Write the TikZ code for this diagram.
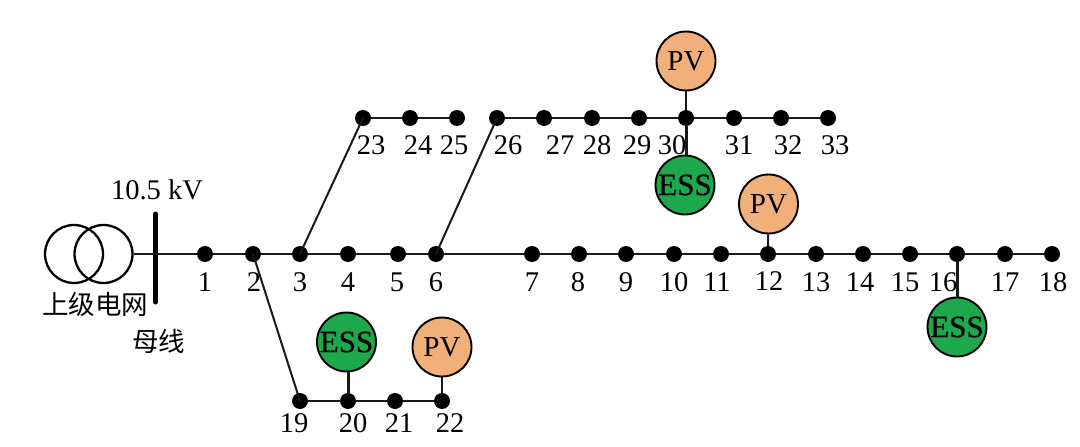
\documentclass[tikz,border=0pt]{standalone}
\usepackage{fontspec}
\setmainfont{Liberation Serif}
\newfontfamily\cjk{Noto Sans CJK SC}
\newfontfamily\essfont[FakeBold=0.6]{Liberation Serif}
\definecolor{pvc}{RGB}{241,176,122}
\definecolor{essc}{RGB}{30,168,78}
\tikzset{
  x=1pt,y=-1pt,
  bus/.style={circle,fill=black,inner sep=0pt,minimum size=16pt},
  lbl/.style={inner sep=0pt,font=\fontsize{28.5}{30}\selectfont},
  cjklbl/.style={inner sep=0pt,font=\cjk\fontsize{26.5}{28}\selectfont},
  source/.style={circle,draw=black,line width=1.9pt,minimum size=59pt,inner sep=0pt,font=\fontsize{29}{30}\selectfont},
  pv/.style={source,fill=pvc},
  ess/.style={source,fill=essc,font=\essfont\fontsize{31}{30}\selectfont},
  wire/.style={line width=2pt,black!90},
  thick wire/.style={line width=3pt,black!90},
  winding/.style={circle,draw=black,line width=2.3pt,minimum size=58pt,inner sep=0pt},
}
\begin{document}
\begin{tikzpicture}
\useasboundingbox (0,0) rectangle (1080,447);
% buses
\foreach \n/\px in {1/205,2/253,3/300,4/348,5/398,6/436,7/532,8/579,9/626,10/674,11/721,12/768,13/816,14/863,15/910,16/957,17/1005,18/1052}
  \node[bus] (b\n) at (\px,254) {};
\foreach \n/\px in {23/363,24/410,25/457,26/497,27/544,28/592,29/639,30/686,31/734,32/781,33/828}
  \node[bus] (b\n) at (\px,118) {};
\foreach \n/\px in {19/300,20/348,21/395,22/442}
  \node[bus] (b\n) at (\px,401) {};
% transformer and busbar
\node[winding] (t1) at (74,254) {};
\node[winding] (t2) at (103.5,254) {};
\coordinate (bartop) at (155.5,214);
\coordinate (barbot) at (155.5,302);
\draw[line width=5pt,line cap=round] (bartop) -- (barbot);
% sources
\node[pv] (pv30) at (686,61) {PV};
\node[ess] (ess30) at (685,185) {ESS};
\node[pv] (pv12) at (768.5,204) {PV};
\node[ess] (ess16) at (957,327) {ESS};
\node[ess] (ess20) at (346.5,342) {ESS};
\node[pv] (pv22) at (442,347) {PV};
% wires
\draw[wire] (t2.east) -- (b1) -- (b2) -- (b3) -- (b4) -- (b5) -- (b6) -- (b7) -- (b8) -- (b9) -- (b10) -- (b11) -- (b12) -- (b13) -- (b14) -- (b15) -- (b16) -- (b17) -- (b18);
\draw[wire] (b23) -- (b24) -- (b25);
\draw[wire] (b26) -- (b27) -- (b28) -- (b29) -- (b30) -- (b31) -- (b32) -- (b33);
\draw[wire] (b19) -- (b20) -- (b21) -- (b22);
\draw[wire] (b2.center) -- (b19.center);
\draw[wire] (b3.center) -- (b23.center);
\draw[wire] (b6.center) -- (b26.center);
\draw[wire] (pv30) -- (b30);
\draw[thick wire] (ess30.north -| b30) -- (b30);
\draw[wire] (pv12) -- (b12);
\draw[thick wire] (ess16) -- (b16);
\draw[thick wire] (ess20.south -| b20) -- (b20);
\draw[wire] (pv22) -- (b22);
% labels
\foreach \n/\px/\py in {1/205/282,2/254/282,3/300/282,4/348/282,5/397/282,6/436/282,7/532/282,8/578/282,9/626/282,10/674/282,11/717/282,12/769/281,13/816/282,14/860/282,15/905/282,16/943/282,17/1005/282,18/1053/282}
  \node[lbl] (l\n) at (\px,\py) {\n};
\foreach \n/\px in {23/371,24/418,25/454,26/508,27/560,28/597,29/637,30/672,31/739,32/788,33/835}
  \node[lbl] (l\n) at (\px,145) {\n};
\foreach \n/\px in {19/294,20/353,21/399,22/450}
  \node[lbl] (l\n) at (\px,423) {\n};
\node[lbl] (kv) at (157,190) {10.5 kV};
\node[cjklbl] (grid) at (95,304.5) {上级电网};
\node[cjklbl] (barname) at (158.5,341.5) {母线};
\end{tikzpicture}
\end{document}
